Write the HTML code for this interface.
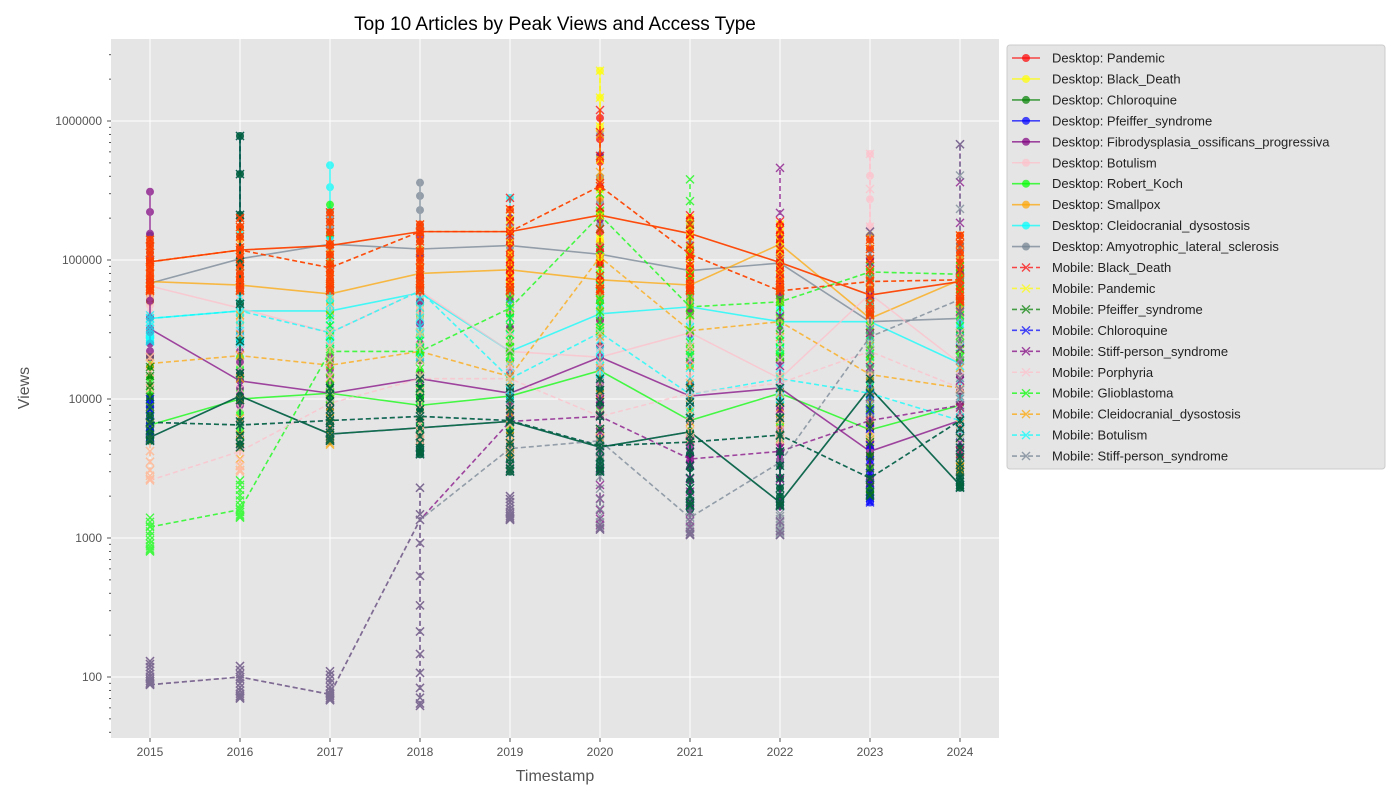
<!DOCTYPE html>
<html><head><meta charset="utf-8">
<style>
body{margin:0;background:#fff;font-family:"Liberation Sans","DejaVu Sans",sans-serif;}
svg text{font-family:"Liberation Sans","DejaVu Sans",sans-serif;}
</style></head>
<body>
<svg id="chart" width="1400" height="800">
<text x="555" y="30" text-anchor="middle" font-size="19" fill="#000">Top 10 Articles by Peak Views and Access Type</text>
<rect x="111" y="39" width="888" height="699" fill="#E5E5E5"/>
<g id="grid"></g>
<g id="series"></g>
<g id="axes"></g>
<text x="555" y="781" text-anchor="middle" font-size="16" fill="#555">Timestamp</text>
<text x="29" y="388" text-anchor="middle" font-size="16" fill="#555" transform="rotate(-90 29 388)">Views</text>
<g id="legend"></g>
</svg>
<script>
const years=[2015,2016,2017,2018,2019,2020,2021,2022,2023,2024];
const yTicks=[100,1000,10000,100000,1000000];
const names=["Desktop: Pandemic","Desktop: Black_Death","Desktop: Chloroquine","Desktop: Pfeiffer_syndrome","Desktop: Fibrodysplasia_ossificans_progressiva","Desktop: Botulism","Desktop: Robert_Koch","Desktop: Smallpox","Desktop: Cleidocranial_dysostosis","Desktop: Amyotrophic_lateral_sclerosis","Mobile: Black_Death","Mobile: Pandemic","Mobile: Pfeiffer_syndrome","Mobile: Chloroquine","Mobile: Stiff-person_syndrome","Mobile: Porphyria","Mobile: Glioblastoma","Mobile: Cleidocranial_dysostosis","Mobile: Botulism","Mobile: Stiff-person_syndrome"];
const colors=["#ff0000","#ffff00","#008000","#0000ff","#800080","#ffc0cb","#00ff00","#ffa500","#00ffff","#708090","#ff0000","#ffff00","#008000","#0000ff","#800080","#ffc0cb","#00ff00","#ffa500","#00ffff","#708090"];
const levels=[
[97000,118000,127000,160000,160000,210000,155000,96000,56000,70000],
[97000,118000,127000,160000,160000,210000,155000,96000,56000,70000],
[5300,10500,5600,6200,6900,4500,5800,1800,12000,2400],
[5300,10500,5600,6200,6900,4500,5800,1800,12000,2400],
[32000,13500,11000,14000,11000,20000,10500,12000,4200,7000],
[65000,45000,30000,60000,22000,20000,30000,14000,57000,18000],
[6500,10000,11000,9000,10500,16000,7000,11000,6000,9000],
[70000,66000,57000,80000,85000,72000,66000,130000,38000,72000],
[38000,43000,43000,58000,22000,41000,46000,36000,36000,18000],
[68000,102000,130000,120000,127000,110000,84000,95000,36000,38000],
[97000,118000,88000,160000,160000,340000,110000,60000,70000,72000],
[97000,118000,88000,160000,160000,340000,110000,60000,70000,72000],
[6800,6500,7000,7500,7000,4600,4900,5500,2700,7000],
[6800,6500,7000,7500,7000,4600,4900,5500,2700,7000],
[88,100,75,1350,6900,7500,3700,4200,7000,9000],
[2600,4200,9300,14000,14000,7500,11000,13000,22000,12000],
[1200,1600,22000,22000,45000,210000,46000,50000,82000,79000],
[18000,20500,17500,22000,14500,105000,31000,36000,15000,12000],
[38000,43000,30000,60000,14000,30000,10800,14000,11000,7000],
[88,100,75,1350,4400,5000,1400,3500,28000,52000]];
const lows=[
[60000,60000,60000,60000,60000,60000,60000,60000,40000,50000],
[60000,60000,60000,60000,60000,60000,60000,60000,40000,50000],
[5000,4500,5000,4000,3000,3000,1600,1700,2000,2300],
[5000,4500,5000,4000,3000,3000,1600,1700,1800,2300],
[20000,9000,9000,10000,7000,9000,3500,3500,4000,5000],
[30000,25000,20000,30000,15000,15000,20000,10000,30000,12000],
[5000,5000,5000,6000,6000,8000,5000,5000,5000,5000],
[50000,35000,40000,40000,40000,30000,40000,50000,30000,40000],
[26000,25000,25000,30000,15000,20000,20000,20000,20000,12000],
[50000,60000,60000,60000,60000,50000,50000,60000,25000,25000],
[60000,60000,60000,60000,60000,60000,60000,60000,40000,50000],
[60000,60000,60000,60000,60000,60000,60000,60000,40000,50000],
[5000,4500,5000,4000,3000,3000,1700,1700,2000,2300],
[5000,4500,5000,4000,3000,3000,1700,1700,1800,2300],
[88,70,68,62,1350,1150,1050,1050,2500,4000],
[2600,3000,5000,5000,3000,4000,5000,5000,5000,5000],
[800,1400,10000,10000,20000,30000,20000,20000,20000,20000],
[2600,3000,4700,5000,4000,5000,5000,5000,5000,3000],
[26000,25000,25000,20000,10000,15000,8000,10000,8000,5000],
[88,70,68,62,1350,1150,1050,1050,8000,10000]];
const highs=[
[140000,200000,220000,180000,230000,1050000,200000,180000,140000,150000],
[140000,200000,220000,180000,230000,2300000,200000,180000,140000,150000],
[17000,780000,12000,14000,12000,14000,12000,12000,14000,7000],
[10000,780000,12000,14000,12000,14000,12000,12000,14000,7000],
[310000,30000,20000,150000,200000,560000,60000,140000,60000,30000],
[80000,60000,60000,60000,50000,40000,40000,30000,580000,30000],
[20000,20000,250000,50000,40000,50000,40000,30000,40000,30000],
[100000,170000,130000,120000,100000,380000,120000,150000,150000,150000],
[40000,200000,480000,80000,280000,80000,50000,50000,40000,40000],
[150000,200000,200000,360000,200000,800000,180000,140000,150000,130000],
[140000,200000,220000,180000,280000,1200000,210000,190000,140000,150000],
[140000,200000,220000,180000,230000,2300000,200000,180000,140000,150000],
[17000,780000,12000,14000,12000,14000,12000,12000,14000,7000],
[10000,780000,12000,14000,12000,14000,12000,12000,14000,7000],
[130,120,110,2300,2000,10000,5000,460000,160000,680000],
[20000,30000,30000,30000,30000,30000,30000,30000,580000,30000],
[1400,2600,40000,30000,60000,300000,380000,60000,90000,90000],
[20000,40000,30000,30000,30000,800000,40000,50000,30000,30000],
[40000,60000,60000,60000,60000,80000,40000,30000,50000,40000],
[130,120,110,2300,2000,5000,2000,1500,160000,680000]];

const NS="http://www.w3.org/2000/svg";
function xS(yr){return 150+(yr-2015)*90;}
function yS(v){return 121+139*(6-Math.log10(v));}
function mk(tag,attrs,parent){const e=document.createElementNS(NS,tag);for(const k in attrs)e.setAttribute(k,attrs[k]);parent.appendChild(e);return e;}
const grid=document.getElementById('grid'),axes=document.getElementById('axes'),ser=document.getElementById('series'),leg=document.getElementById('legend');
years.forEach(yr=>{
 const l=mk('line',{x1:xS(yr),x2:xS(yr),y1:39,y2:738,stroke:'#fff','stroke-width':1},grid);
 
 
 const t=mk('text',{x:xS(yr),y:756,'text-anchor':'middle','font-size':12,fill:'#555'},axes);
 t.textContent=yr;
 
 
 mk('line',{x1:xS(yr),x2:xS(yr),y1:738,y2:742,stroke:'#555'},axes);
});
yTicks.forEach(v=>{
 const l=mk('line',{x1:111,x2:999,y1:yS(v),y2:yS(v),stroke:'#fff','stroke-width':1},grid);
 
 
 const t=mk('text',{x:102,y:yS(v)+4,'text-anchor':'end','font-size':12,fill:'#555'},axes);
 t.textContent=v;
 
 
 mk('line',{x1:107,x2:111,y1:yS(v),y2:yS(v),stroke:'#555'},axes);
});
for(let d=10;d<=1e6;d*=10){for(let m=2;m<=9;m++){const v=d*m;const y=yS(v);if(y>39&&y<738)mk('line',{x1:109,x2:111,y1:y,y2:y,stroke:'#555'},axes);}}
const draw=[9,8,7,6,5,4,3,2,1,0,18,17,16,15,14,19,13,12,11,10];
const fr=[0,0.08,0.16,0.25,0.35,0.45,0.55,0.65,0.75,0.85,0.93,1];
draw.forEach(i=>{
 const g=mk('g',{opacity:0.7},ser);
 
 
 const dash=i>=10?'5,3':'none';
 let pts=[];
 years.forEach((yr,j)=>{pts.push(xS(yr)+','+yS(levels[i][j]));});
 mk('polyline',{points:pts.join(' '),fill:'none',stroke:colors[i],'stroke-width':1.6,'stroke-dasharray':dash},g);
 years.forEach((yr,j)=>{
  const x=xS(yr),lo=lows[i][j],hi=highs[i][j],lv=levels[i][j];
  mk('line',{x1:x,x2:x,y1:yS(lo),y2:yS(hi),stroke:colors[i],'stroke-width':1.6,'stroke-dasharray':dash},g);
  const yl=yS(lo),yh=yS(hi);
  const ys=fr.map(f=>yl+(yh-yl)*Math.pow(f,1.8));
  ys.push(yS(lv));
  ys.forEach(y=>{
   if(i<10){const c=mk('circle',{cx:x,cy:y,r:4,fill:colors[i]},g);}
   else{const p=mk('path',{d:`M${x-4},${y-4}L${x+4},${y+4}M${x-4},${y+4}L${x+4},${y-4}`,stroke:colors[i],'stroke-width':1.4},g);}
  });
 });
});
mk('rect',{x:1007,y:45,width:378,height:424,fill:'#E5E5E5',stroke:'#ccc',rx:3},leg);
names.forEach((n,i)=>{
 const y=58+i*20.95;
 const g=mk('g',{},leg);
 
 
 mk('line',{x1:1012,x2:1040,y1:y,y2:y,stroke:colors[i],'stroke-width':1.6,opacity:0.7,'stroke-dasharray':i>=10?'5,3':'none'},g);
 if(i<10)mk('circle',{cx:1026,cy:y,r:4,fill:colors[i],opacity:0.7},g);
 else mk('path',{d:`M1022,${y-4}L1030,${y+4}M1022,${y+4}L1030,${y-4}`,stroke:colors[i],'stroke-width':1.4,opacity:0.7},g);
 const t=mk('text',{x:1052,y:y+4.5,'font-size':13,fill:'#222'},g);
 t.textContent=n;
});
</script>
</body></html>
